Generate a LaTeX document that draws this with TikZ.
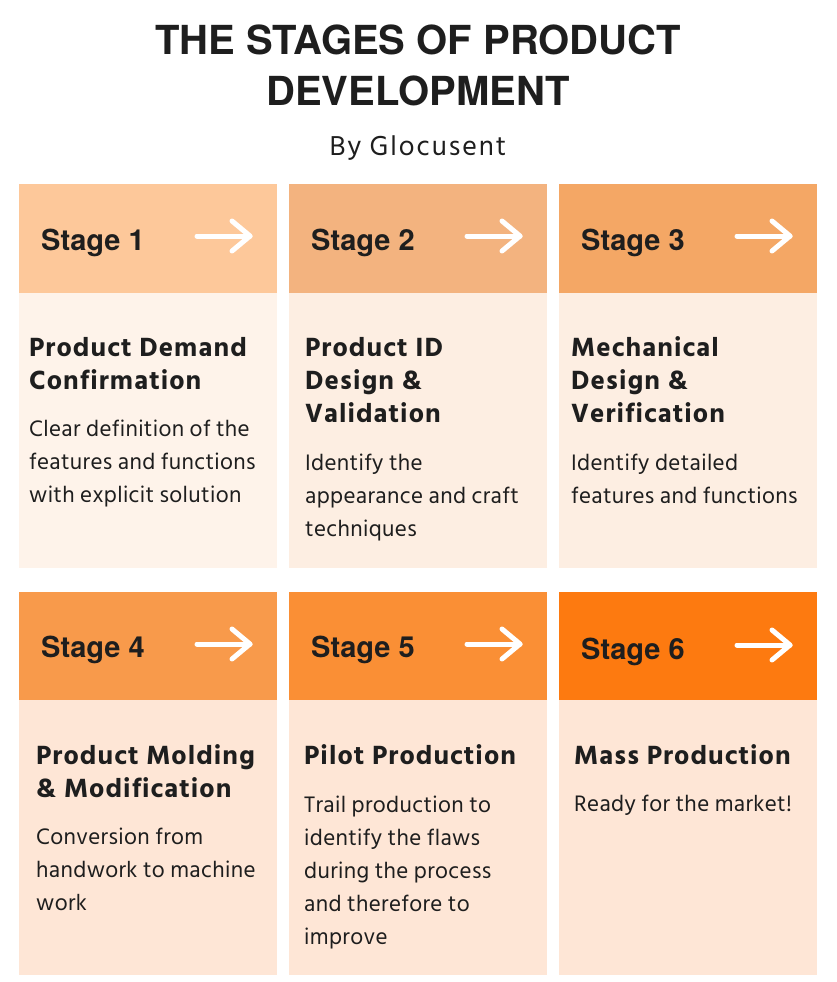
\documentclass[tikz,border=0pt]{standalone}
\usepackage{fontspec}
\setmainfont{Hind Siliguri}
\newfontfamily\headfont{TeX Gyre Heros}
\newfontfamily\boldwide[LetterSpace=4]{Hind Siliguri Bold}
\newfontfamily\textwide[LetterSpace=1.5]{Hind Siliguri}
\newfontfamily\bywide[LetterSpace=7]{Hind Siliguri}
\usetikzlibrary{positioning}

\definecolor{inkc}{HTML}{1E1E1E}
\definecolor{hdA}{HTML}{FDC89A}
\definecolor{hdB}{HTML}{F3B37F}
\definecolor{hdC}{HTML}{F4A765}
\definecolor{hdD}{HTML}{F89A4B}
\definecolor{hdE}{HTML}{FA8F35}
\definecolor{hdF}{HTML}{FD7A10}
\definecolor{bdA}{HTML}{FEF3EA}
\definecolor{bdB}{HTML}{FDEEE2}
\definecolor{bdC}{HTML}{FEE6D6}

\tikzset{
  headbox/.style={minimum width=258pt, minimum height=109pt, inner sep=0pt, draw=none},
  bodybox/.style={minimum width=258pt, minimum height=275pt, inner sep=0pt, draw=none},
  stagelabel/.style={anchor=base west, inner sep=0pt, text=inkc, font=\headfont\bfseries\fontsize{29}{29}\selectfont},
  stagetitle/.style={anchor=base west, inner sep=0pt, text=inkc, align=left, font=\boldwide\fontsize{27}{33}\selectfont},
  stagetext/.style={anchor=base west, inner sep=0pt, text=inkc, align=left, font=\textwide\fontsize{23}{33}\selectfont},
  stagearrow/.style={draw=white, line width=5pt, line cap=round, line join=round},
}

\begin{document}
\begin{tikzpicture}[x=1pt, y=-1pt]
       \useasboundingbox (0,0) rectangle (836,982);
       \fill[white] (0,0) rectangle (836,982);
       % title
       \node (t1) at (418,55) [anchor=base, inner sep=0pt, text=inkc, font=\headfont\bfseries\fontsize{40}{40}\selectfont] {THE STAGES OF PRODUCT};
       \node (t2) at (418,105) [anchor=base, inner sep=0pt, text=inkc, font=\headfont\bfseries\fontsize{40}{40}\selectfont] {DEVELOPMENT};
       \node (by) at (418,155) [anchor=base, inner sep=0pt, text=inkc, font=\bywide\fontsize{28}{28}\selectfont] {By Glocusent};
       % header boxes
       \node (h1) at (148,238.5) [headbox, fill=hdA] {};
       \node (h2) at (418,238.5) [headbox, fill=hdB] {};
       \node (h3) at (688,238.5) [headbox, fill=hdC] {};
       \node (h4) at (148,646) [headbox, fill=hdD] {};
       \node (h5) at (418,646) [headbox, fill=hdE] {};
       \node (h6) at (688,646) [headbox, fill=hdF] {};
       % body boxes
       \node (b1) at (148,430.5) [bodybox, fill=bdA] {};
       \node (b2) at (418,430.5) [bodybox, fill=bdB] {};
       \node (b3) at (688,430.5) [bodybox, fill=bdB] {};
       \node (b4) at (148,837.5) [bodybox, fill=bdC] {};
       \node (b5) at (418,837.5) [bodybox, fill=bdC] {};
       \node (b6) at (688,837.5) [bodybox, fill=bdC] {};
       % stage labels
       \node (s1) at (41,250) [stagelabel] {Stage 1};
       \node (s2) at (311,250) [stagelabel] {Stage 2};
       \node (s3) at (581,250) [stagelabel] {Stage 3};
       \node (s4) at (41,657) [stagelabel] {Stage 4};
       \node (s5) at (311,657) [stagelabel] {Stage 5};
       \node (s6) at (581,659) [stagelabel] {Stage 6};
       % arrows
       \foreach \ax/\ay in {197/236, 467/236, 737/236, 197/644, 467/644, 737/645} {
         \draw [stagearrow] (\ax,\ay) -- ++(53,0);
         \draw [stagearrow] (\ax+35,\ay-15) -- ++(18,15) -- ++(-18,15);
       }
       % titles (placed at the baseline of their last line)
       \node (p1) at (29,389) [stagetitle] {Product Demand\\Confirmation};
       \node (p2) at (305,422) [stagetitle] {Product ID\\Design \&\\Validation};
       \node (p3) at (571,422) [stagetitle] {Mechanical\\Design \&\\Verification};
       \node (p4) at (36,797) [stagetitle] {Product Molding\\\& Modification};
       \node (p5) at (304,764) [stagetitle] {Pilot Production};
       \node (p6) at (574,764) [stagetitle] {Mass Production};
       % descriptions
       \node (d1) at (29,502) [stagetext] {Clear definition of the\\features and functions\\with explicit solution};
       \node (d2) at (305,536) [stagetext] {Identify the\\appearance and craft\\techniques};
       \node (d3) at (571,503) [stagetext] {Identify detailed\\features and functions};
       \node (d4) at (36,910) [stagetext] {Conversion from\\handwork to machine\\work};
       \node (d5) at (304,944) [stagetext] {Trail production to\\identify the flaws\\during the process\\and therefore to\\improve};
       \node (d6) at (574,811) [stagetext] {Ready for the market!};
\end{tikzpicture}
\end{document}
